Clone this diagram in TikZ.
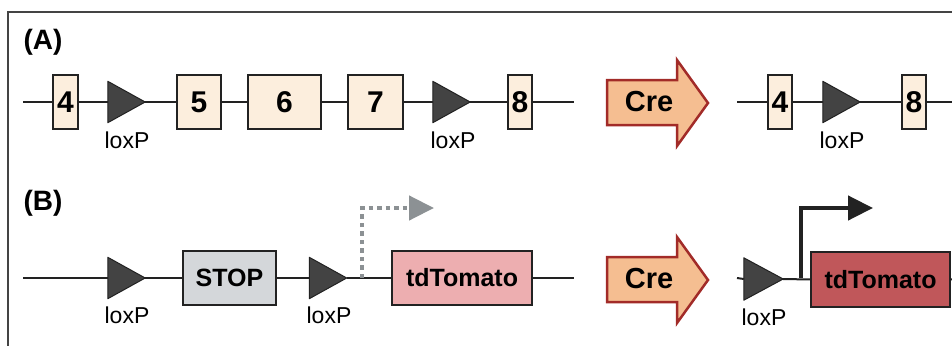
\documentclass[tikz,border=0pt]{standalone}
\usepackage{fontspec}
\setmainfont{Liberation Sans}
\usetikzlibrary{arrows.meta}
\definecolor{exonfill}{HTML}{FCEEDD}
\definecolor{stopfill}{HTML}{D4D7DA}
\definecolor{tdlight}{HTML}{EDAEB0}
\definecolor{tddark}{HTML}{C0575A}
\definecolor{crefill}{HTML}{F5BE91}
\definecolor{credraw}{HTML}{A22B28}
\definecolor{promgray}{HTML}{8C9194}
\definecolor{framecol}{HTML}{444444}
\definecolor{linecol}{HTML}{222222}
\definecolor{loxfill}{HTML}{434343}
\newcommand{\lowd}[1]{\raisebox{-4pt}{#1}}
\tikzset{
  exon/.style={draw=linecol, line width=1.5pt, fill=exonfill, inner sep=0pt, minimum height=54pt,
    font=\fontsize{30}{32}\selectfont\bfseries},
  genebox/.style={draw=linecol, line width=1.5pt, inner sep=0pt, minimum height=54pt,
    font=\fontsize{25}{27}\selectfont\bfseries},
  loxsite/.style={rectangle, inner sep=0pt, minimum width=37pt, minimum height=41pt},
  loxtri/.style={fill=loxfill, draw=linecol, line width=1pt, line join=round},
  loxlabel/.style={anchor=base, font=\fontsize{23}{25}\selectfont},
  panel/.style={anchor=base west, font=\fontsize{28}{30}\selectfont\bfseries},
  backbone/.style={draw=linecol, line width=2pt},
  crearrow/.style={fill=crefill, draw=credraw, line width=2.5pt, line join=miter},
  crelabel/.style={font=\fontsize{29}{31}\selectfont\bfseries},
  framebox/.style={draw=framecol, line width=1.5pt},
}
\begin{document}
\begin{tikzpicture}[x=1pt,y=-1pt]
\useasboundingbox (0,0) rectangle (952,345);
\begin{scope}
  \clip (0,0) rectangle (952,345);
  \draw[framebox] (8,12) rectangle (990,380);
\end{scope}

% panel labels
\node[panel] (pA) at (20,49) {(A)};
\node[panel] (pB) at (20,210) {(B)};

% ---------- Row A (left) ----------
\coordinate (aS) at (23,102);
\coordinate (aE) at (574,102);
\node[exon, minimum width=25pt] (a4) at (65.5,102) {\lowd{4}};
\node[loxsite] (al1) at (126.5,102) {};
\node[exon, minimum width=44pt] (a5) at (199,102) {\lowd{5}};
\node[exon, minimum width=73pt] (a6) at (284.5,102) {\lowd{6}};
\node[exon, minimum width=55pt] (a7) at (375.5,102) {\lowd{7}};
\node[loxsite] (al2) at (451.5,102) {};
\node[exon, minimum width=24pt] (a8) at (520,102) {\lowd{8}};
\draw[backbone] (aS) -- (a4.west);
\draw[backbone] (a4.east) -- (al1.west);
\draw[backbone] (al1.east) -- (a5.west);
\draw[backbone] (a5.east) -- (a6.west);
\draw[backbone] (a6.east) -- (a7.west);
\draw[backbone] (a7.east) -- (al2.west);
\draw[backbone] (al2.east) -- (a8.west);
\draw[backbone] (a8.east) -- (aE);
\draw[loxtri] (al1.north west) -- (al1.east) -- (al1.south west) -- cycle;
\draw[loxtri] (al2.north west) -- (al2.east) -- (al2.south west) -- cycle;
\node[loxlabel] (alt1) at (127,148) {loxP};
\node[loxlabel] (alt2) at (453,148) {loxP};

% Cre arrow A
\draw[crearrow] (607,80) -- (677,80) -- (677,60) -- (708,103) -- (677,146) -- (677,125) -- (607,125) -- cycle;
\node[crelabel] (creA) at (649,102) {Cre};

% ---------- Row A (right) ----------
\coordinate (rS) at (737,102);
\coordinate (rE) at (970,102);
\node[exon, minimum width=24pt] (r4) at (780,102) {\lowd{4}};
\node[loxsite] (rl1) at (841.5,102) {};
\node[exon, minimum width=24pt] (r8) at (914,102) {\lowd{8}};
\draw[backbone] (rS) -- (r4.west);
\draw[backbone] (r4.east) -- (rl1.west);
\draw[backbone] (rl1.east) -- (r8.west);
\draw[backbone] (r8.east) -- (rE);
\draw[loxtri] (rl1.north west) -- (rl1.east) -- (rl1.south west) -- cycle;
\node[loxlabel] (rlt1) at (842,148) {loxP};

% ---------- Row B (left) ----------
\coordinate (bS) at (23,278);
\coordinate (bE) at (574,278);
\node[loxsite] (bl1) at (126.5,278) {};
\node[genebox, fill=stopfill, minimum width=93pt] (stop) at (229.5,278) {STOP};
\node[loxsite] (bl2) at (328,278) {};
\node[genebox, fill=tdlight, minimum width=140pt] (td1) at (462,278) {tdTomato};
\coordinate (p1) at (362,278);
\coordinate (p1top) at (362,208);
\coordinate (p1tip) at (434,208);
\draw[backbone] (bS) -- (bl1.west);
\draw[backbone] (bl1.east) -- (stop.west);
\draw[backbone] (stop.east) -- (bl2.west);
\draw[backbone] (bl2.east) -- (td1.west);
\draw[backbone] (td1.east) -- (bE);
\draw[loxtri] (bl1.north west) -- (bl1.east) -- (bl1.south west) -- cycle;
\draw[loxtri] (bl2.north west) -- (bl2.east) -- (bl2.south west) -- cycle;
\node[loxlabel] (blt1) at (127,323) {loxP};
\node[loxlabel] (blt2) at (329,323) {loxP};
\draw[promgray, line width=4.5pt, dash pattern=on 4.5pt off 4pt,
  -{Triangle[length=25pt,width=24pt,sep=0pt]}] (p1) -- (p1top) -- (p1tip);

% Cre arrow B
\draw[crearrow] (607,257) -- (677,257) -- (677,237) -- (708,280) -- (677,323) -- (677,302) -- (607,302) -- cycle;
\node[crelabel] (creB) at (649,279) {Cre};

% ---------- Row B (right) ----------
\coordinate (sS) at (737,278);
\coordinate (sE) at (970,278);
\node[loxsite, minimum width=39pt, minimum height=42pt] (sl1) at (763.5,279) {};
\node[genebox, fill=tddark, minimum width=139pt, minimum height=55pt] (td2) at (880.5,279.5) {tdTomato};
\coordinate (p2) at (801,278);
\coordinate (p2top) at (801,208);
\coordinate (p2tip) at (873,208);
\draw[backbone] (sS) -- (sl1.west);
\draw[backbone] (sl1.east) -- (td2.west);
\draw[backbone] (td2.east) -- (sE);
\draw[loxtri] (sl1.north west) -- (sl1.east) -- (sl1.south west) -- cycle;
\node[loxlabel] (slt1) at (764,325) {loxP};
\draw[linecol, line width=4.5pt, line join=miter,
  -{Triangle[length=25pt,width=24pt,sep=0pt]}] (p2) -- (p2top) -- (p2tip);
\end{tikzpicture}
\end{document}
